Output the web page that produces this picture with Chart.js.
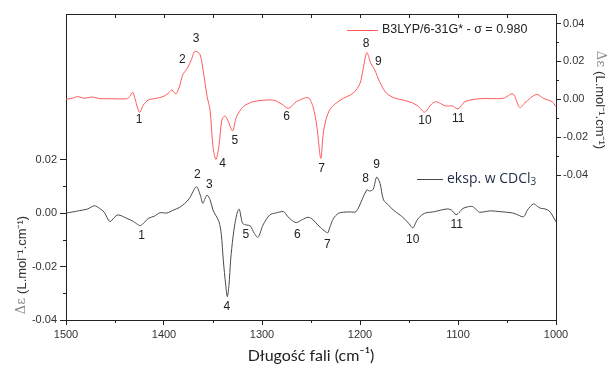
<!DOCTYPE html>
<html>
<head>
<meta charset="utf-8">
<script src="https://cdn.jsdelivr.net/npm/chart.js@4.4.0/dist/chart.umd.min.js"></script>
<style>
  html, body { margin: 0; padding: 0; background: #fff; }
  canvas { display: block; }
</style>
</head>
<body>
<canvas id="ecdChart" width="610" height="365"></canvas>
<script>
// B3LYP/6-31G* calculated spectrum (right axis)
const calcWavenumbers = [1500, 1494, 1488, 1481, 1474, 1465, 1455, 1438, 1435, 1432, 1430, 1425, 1421, 1416, 1408,
  1401, 1396, 1392, 1388, 1384, 1381, 1376, 1372, 1369, 1366, 1363, 1360, 1356, 1353, 1350,
  1347, 1344, 1341, 1338, 1335, 1330, 1326, 1319, 1309, 1289, 1280, 1273, 1265, 1253, 1248,
  1244, 1240, 1237, 1231, 1220, 1207, 1200, 1197, 1193, 1189, 1185, 1180, 1173, 1164, 1156,
  1146, 1140, 1134, 1127, 1122, 1113, 1106, 1100, 1093, 1078, 1054, 1044, 1037, 1032, 1020,
  1013, 1004, 1000];
const calcValues = [0, 0.0005, 0.0014, 0.0005, 0.0012, 0.0003, 0.0003, 0.0003, 0.0015, 0.0037, 0.001, -0.0069, -0.003, -0.0004, 0.0005,
  0.0014, 0.003, 0.0049, 0.0028, 0.007, 0.0128, 0.0165, 0.021, 0.0251, 0.025, 0.0234, 0.015, 0.0014, -0.0056, -0.025,
  -0.0317, -0.025, -0.011, -0.0088, -0.011, -0.0167, -0.0092, -0.0039, -0.0013, -0.0004, -0.0025, -0.0048, -0.0013, 0.0008, -0.0039,
  -0.0145, -0.0312, -0.0162, -0.0056, -0.0004, 0.0032, 0.0084, 0.0155, 0.0246, 0.019, 0.0155, 0.0093, 0.0032, 0.0005, -0.0004,
  -0.002, -0.004, -0.0068, -0.0025, -0.0013, -0.0035, -0.0035, -0.0051, -0.0013, 0.0003, 0.0005, 0.0028, -0.0044, -0.002, 0.0026,
  0.0005, -0.0013, -0.0039];

// experimental spectrum in CDCl3 (left axis)
const expWavenumbers = [1500, 1493, 1486, 1478, 1471, 1466, 1461, 1458, 1455, 1451, 1447, 1438, 1431, 1428, 1424,
  1420, 1416, 1410, 1404, 1397, 1391, 1384, 1379, 1374, 1367, 1363, 1360.5, 1358, 1356, 1353,
  1350, 1344, 1341.5, 1339.5, 1337, 1335.4, 1333.7, 1332, 1329.6, 1327.6, 1325, 1323.2, 1321.4, 1319.7, 1315.6,
  1312, 1308, 1304, 1299, 1292, 1286, 1278, 1274, 1270, 1265, 1259, 1253, 1248, 1243, 1233,
  1231, 1227, 1222, 1217, 1210, 1204, 1198, 1193, 1190, 1186.5, 1183, 1179.6, 1176, 1171, 1166,
  1159, 1154, 1150, 1146, 1143, 1140.5, 1134, 1124, 1112, 1107, 1102, 1098, 1095, 1086, 1082,
  1078, 1067, 1057, 1044, 1039, 1033, 1029, 1023, 1019, 1016, 1011, 1007, 1004, 1000];
const expValues = [0, 0.0004, 0.0009, 0.0015, 0.0027, 0.0018, 0.0003, -0.0018, -0.0032, -0.0018, -0.0007, -0.002, -0.0032, -0.004, -0.0047,
  -0.0035, -0.002, -0.0012, 0.0001, 0, 0.001, 0.0021, 0.0035, 0.0055, 0.0098, 0.0067, 0.0036, 0.0055, 0.0067, 0.005,
  0.0011, -0.0032, -0.008, -0.0176, -0.027, -0.0313, -0.027, -0.0176, -0.009, -0.0039, 0.0005, 0.0014, -0.0015, -0.0039, -0.0045,
  -0.0048, -0.0075, -0.0091, -0.0045, -0.0007, 0, 0.0005, -0.0012, -0.0026, -0.0036, -0.0025, -0.0016, -0.0025, -0.0045, -0.0074,
  -0.0055, -0.002, -0.0001, 0.0003, 0.0004, 0.0005, 0.0049, 0.0086, 0.0082, 0.0089, 0.0134, 0.0111, 0.0049, 0.003, 0.0011,
  -0.0008, -0.0024, -0.004, -0.0056, -0.0035, -0.002, -0.0001, 0.0005, 0.0015, 0.0012, -0.0006, 0.0005, 0.0017, 0.0025, 0.0015,
  0.0003, 0.0008, 0.0005, 0, -0.0007, -0.0014, 0.0012, 0.0034, 0.0025, 0.0018, 0.0015, 0.0008, -0.0007, -0.0033];

// peak numbering (where the numbers sit, in data units)
const peakNames = ['1', '2', '3', '4', '5', '6', '7', '8', '9', '10', '11'];
const calcPeakWn = [1425.5, 1381.3, 1367.3, 1340.1, 1327.6, 1274.8, 1239.1, 1193.9, 1181.3, 1133.7, 1099.7];
const calcPeakVal = [-0.0106, 0.0207, 0.0322, -0.0338, -0.0219, -0.0092, -0.0364, 0.0292, 0.0199, -0.0113, -0.0100];
const expPeakWn = [1422.8, 1366, 1353.8, 1336, 1316.6, 1264, 1233.4, 1194.2, 1183, 1146.2, 1101.3];
const expPeakVal = [-0.0086, 0.0142, 0.0105, -0.035, -0.0082, -0.0082, -0.012, 0.013, 0.018, -0.0098, -0.0045];

// axis ticks
const xTicks = [1000, 1100, 1200, 1300, 1400, 1500];
const xMinorTicks = [1050, 1150, 1250, 1350, 1450];
const expTicks = [-0.04, -0.02, 0, 0.02];
const expMinorTicks = [-0.03, -0.01, 0.01];
const calcTicks = [-0.04, -0.02, 0, 0.02, 0.04];
const calcMinorTicks = [-0.03, -0.01, 0.01, 0.03];

const calcColor = '#ff5a5a';
const expColor = '#4a4a4a';
const axisColor = '#222';

const toPoints = (xs, ys) => xs.map((x, i) => ({ x: x, y: ys[i] }));

// minor ticks, top frame and inward top ticks
const frameTicks = {
  id: 'frameTicks',
  afterDraw(chart) {
    const { ctx, chartArea: a, scales } = chart;
    const sx = scales.x, sl = scales.yExp, sr = scales.yCalc;
    ctx.save();
    ctx.strokeStyle = axisColor;
    ctx.lineWidth = 1;
    ctx.beginPath();
    const top = Math.round(a.top) + 0.5;
    ctx.moveTo(a.left, top);
    ctx.lineTo(a.right, top);
    xTicks.concat(xMinorTicks).forEach(v => {
      const px = Math.round(sx.getPixelForValue(v)) + 0.5;
      ctx.moveTo(px, a.top);
      ctx.lineTo(px, a.top + 4);
    });
    xMinorTicks.forEach(v => {
      const px = Math.round(sx.getPixelForValue(v)) + 0.5;
      ctx.moveTo(px, a.bottom);
      ctx.lineTo(px, a.bottom + 3);
    });
    expMinorTicks.forEach(v => {
      const py = Math.round(sl.getPixelForValue(v)) + 0.5;
      ctx.moveTo(a.left - 3, py);
      ctx.lineTo(a.left, py);
    });
    calcMinorTicks.forEach(v => {
      const py = Math.round(sr.getPixelForValue(v)) + 0.5;
      ctx.moveTo(a.right, py);
      ctx.lineTo(a.right + 3, py);
    });
    ctx.stroke();
    ctx.restore();
  }
};

// peak numbers, legend entries and the two y titles
const textLayer = {
  id: 'textLayer',
  afterDraw(chart) {
    const { ctx, chartArea: a, scales } = chart;
    const sx = scales.x;
    ctx.save();
    ctx.fillStyle = '#222';
    ctx.font = '12px "Liberation Sans", Arial, sans-serif';
    ctx.textAlign = 'center';
    ctx.textBaseline = 'middle';
    peakNames.forEach((name, i) => {
      ctx.fillText(name, sx.getPixelForValue(calcPeakWn[i]), scales.yCalc.getPixelForValue(calcPeakVal[i]));
      ctx.fillText(name, sx.getPixelForValue(expPeakWn[i]), scales.yExp.getPixelForValue(expPeakVal[i]));
    });

    // legend: calculated
    ctx.lineWidth = 1;
    ctx.strokeStyle = calcColor;
    ctx.beginPath();
    ctx.moveTo(347, 30.5);
    ctx.lineTo(378, 30.5);
    ctx.stroke();
    ctx.textAlign = 'left';
    ctx.fillStyle = '#222';
    ctx.font = '12.5px "Liberation Sans", Arial, sans-serif';
    ctx.fillText('B3LYP/6-31G* - \u03c3 = 0.980', 382, 30);

    // legend: experimental
    ctx.strokeStyle = expColor;
    ctx.beginPath();
    ctx.moveTo(417, 179.5);
    ctx.lineTo(443, 179.5);
    ctx.stroke();
    ctx.fillStyle = '#1f2a44';
    ctx.font = '14px "Open Sans", sans-serif';
    ctx.fillText('eksp. w CDCl', 447, 179);
    const w = ctx.measureText('eksp. w CDCl').width;
    ctx.font = '10px "Open Sans", sans-serif';
    ctx.fillText('3', 447 + w, 182);

    // y titles
    const drawTitle = (x, y, rot) => {
      ctx.save();
      ctx.translate(x, y);
      ctx.rotate(rot);
      ctx.textAlign = 'left';
      ctx.textBaseline = 'middle';
      ctx.font = '13px "DejaVu Serif", serif';
      const head = '\u0394\u03b5 ';
      const rest = '(L.mol\u207b\u00b9.cm\u207b\u00b9)';
      const hw = ctx.measureText(head).width;
      ctx.font = '13px "Liberation Sans", Arial, sans-serif';
      const rw = ctx.measureText(rest).width;
      const start = -(hw + rw) / 2;
      ctx.fillStyle = '#888';
      ctx.font = '13px "DejaVu Serif", serif';
      ctx.fillText(head, start, 0);
      ctx.fillStyle = '#333';
      ctx.font = '13px "Liberation Sans", Arial, sans-serif';
      ctx.fillText(rest, start + hw, 0);
      ctx.restore();
    };
    drawTitle(22, 265, -Math.PI / 2);
    drawTitle(600, 100, Math.PI / 2);
    ctx.restore();
  }
};

const ctx = document.getElementById('ecdChart').getContext('2d');
const ecdChart = new Chart(ctx, {
  type: 'line',
  data: {
    datasets: [{
      label: 'B3LYP/6-31G* - \u03c3 = 0.980',
      data: toPoints(calcWavenumbers, calcValues),
      yAxisID: 'yCalc',
      borderColor: calcColor,
      borderWidth: 1,
      pointRadius: 0,
      tension: 0.3,
      fill: false
    }, {
      label: 'eksp. w CDCl3',
      data: toPoints(expWavenumbers, expValues),
      yAxisID: 'yExp',
      borderColor: expColor,
      borderWidth: 1,
      pointRadius: 0,
      tension: 0.3,
      fill: false
    }]
  },
  options: {
    responsive: false,
    animation: false,
    layout: { padding: { top: 14, left: 0, right: 0, bottom: 0 } },
    scales: {
      x: {
        type: 'linear',
        reverse: true,
        min: 1000,
        max: 1500,
        afterBuildTicks: s => { s.ticks = xTicks.map(v => ({ value: v })); },
        afterFit: s => { s.height = 45; },
        ticks: {
          autoSkip: false,
          maxRotation: 0,
          padding: 3,
          color: '#333',
          font: { family: '"Liberation Sans", Arial, sans-serif', size: 11 },
          callback: v => String(v)
        },
        grid: { drawOnChartArea: false, tickLength: 5, color: axisColor },
        border: { color: axisColor, width: 1 },
        title: {
          display: true,
          text: 'D\u0142ugo\u015b\u0107 fali (cm\u207b\u00b9)',
          color: '#222',
          font: { family: 'Lato, "Open Sans", sans-serif', size: 16 },
          padding: { top: 0, bottom: 0 }
        }
      },
      yExp: {
        type: 'linear',
        position: 'left',
        min: -0.04,
        max: 0.0744,
        afterBuildTicks: s => { s.ticks = expTicks.map(v => ({ value: v })); },
        afterFit: s => { s.width = 66; },
        ticks: {
          padding: 3,
          color: '#333',
          font: { family: '"Liberation Sans", Arial, sans-serif', size: 11 },
          callback: v => v.toFixed(2)
        },
        grid: { drawOnChartArea: false, tickLength: 6, color: axisColor },
        border: { color: axisColor, width: 1 }
      },
      yCalc: {
        type: 'linear',
        position: 'right',
        min: -0.1165,
        max: 0.045,
        afterBuildTicks: s => { s.ticks = calcTicks.map(v => ({ value: v })); },
        afterFit: s => { s.width = 54; },
        ticks: {
          padding: 2,
          color: '#333',
          font: { family: '"Liberation Sans", Arial, sans-serif', size: 11 },
          callback: v => v.toFixed(2)
        },
        grid: { drawOnChartArea: false, tickLength: 5, color: axisColor },
        border: { color: axisColor, width: 1 }
      }
    },
    plugins: {
      legend: { display: false },
      tooltip: { enabled: false }
    }
  },
  plugins: [frameTicks, textLayer]
});
</script>
</body>
</html>
